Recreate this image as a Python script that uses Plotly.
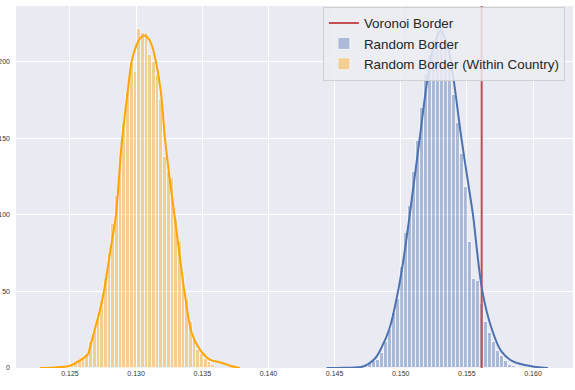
import plotly.graph_objects as go

# ---------------- data ----------------
# Histogram of "Random Border (Within Country)" (density), equal-width bins
orange_bin_start = 0.124773
orange_bin_width = 0.0002795
orange_heights = [1, 2, 3, 5, 7, 9, 17, 24, 33, 44,
                  58, 75, 94, 112, 139, 160, 181, 199, 193, 221,
                  219, 219, 204, 200, 191, 175, 138, 128, 124, 97,
                  82, 60, 45, 30, 20, 12, 9, 6, 4, 2]

# Histogram of "Random Border" (density), equal-width bins
blue_bin_start = 0.146903
blue_bin_width = 0.000302
blue_heights = [0.7, 1.5, 3, 4.5, 5.5, 10, 17, 25, 36, 45,
                66, 88, 106, 128, 148, 170, 192, 204, 214, 222,
                222, 212, 199, 178, 160, 140, 118, 82, 58, 57,
                42, 30, 23, 17, 11, 7.6, 4.3, 2.2, 1.5, 0.8]

# KDE curves
orange_kde_x = [0.122734, 0.123867, 0.125000, 0.125755, 0.126360, 0.126511,
                0.127266, 0.127568, 0.128021, 0.128474, 0.128776, 0.128950,
                0.129358, 0.129660, 0.130038, 0.130325, 0.130612, 0.130891,
                0.131171, 0.131495, 0.131873, 0.132175, 0.132515, 0.132893,
                0.133270, 0.133648, 0.134237, 0.134819, 0.135574, 0.136329,
                0.137085, 0.137840]
orange_kde_y = [0, 0.3, 1.5, 5, 9, 13.7,
                37.8, 50, 75, 100, 133, 150,
                180, 200, 211, 215.5, 217, 215.5,
                211, 200, 180, 150, 125, 100,
                75, 50, 22, 12, 5.4, 3.8,
                1.5, 0]

blue_kde_x = [0.144388, 0.145770, 0.147153, 0.148036, 0.148542, 0.149169,
              0.149796, 0.150227, 0.150680, 0.150831, 0.151435, 0.152062,
              0.152492, 0.153021, 0.153550, 0.153950, 0.154585, 0.155287,
              0.155461, 0.156171, 0.156850, 0.157606, 0.158482, 0.159970,
              0.161125]
blue_kde_y = [0, 0.2, 1, 6, 13.2, 26.3,
              50, 72, 100, 110, 150, 191,
              210, 220, 210, 191, 150, 110,
              100, 50, 26.3, 10.8, 4.3, 1,
              0]

voronoi_value = 0.156118

x_ticks = [0.125, 0.130, 0.135, 0.140, 0.145, 0.150, 0.155, 0.160]
x_tick_labels = ["0.125", "0.130", "0.135", "0.140", "0.145", "0.150", "0.155", "0.160"]
y_ticks = [0, 50, 100, 150, 200]

x_range = [0.12092, 0.16302]
y_range = [0, 236.3]

# ---------------- figure ----------------
orange_centers = [orange_bin_start + orange_bin_width * (i + 0.5) for i in range(len(orange_heights))]
blue_centers = [blue_bin_start + blue_bin_width * (i + 0.5) for i in range(len(blue_heights))]

fig = go.Figure()

fig.add_trace(go.Scatter(
    x=[voronoi_value, voronoi_value], y=[0, 300], mode="lines",
    line=dict(color="#C44E52", width=2), name="Voronoi Border"))

fig.add_trace(go.Bar(
    x=blue_centers, y=blue_heights, width=blue_bin_width,
    marker=dict(color="#4C72B0", line=dict(color="white", width=1)),
    opacity=0.4, name="Random Border"))

fig.add_trace(go.Bar(
    x=orange_centers, y=orange_heights, width=orange_bin_width,
    marker=dict(color="#FFA500", line=dict(color="white", width=1)),
    opacity=0.4, name="Random Border (Within Country)"))

fig.add_trace(go.Scatter(
    x=blue_kde_x, y=blue_kde_y, mode="lines", line=dict(color="#4C72B0", width=2, shape="spline"),
    showlegend=False, hoverinfo="skip"))

fig.add_trace(go.Scatter(
    x=orange_kde_x, y=orange_kde_y, mode="lines", line=dict(color="#FFA500", width=2, shape="spline"),
    showlegend=False, hoverinfo="skip"))

fig.update_layout(
    width=575, height=390,
    margin=dict(l=16, r=2, t=6, b=21.5, autoexpand=False),
    paper_bgcolor="white", plot_bgcolor="#EAEAF2",
    barmode="overlay", bargap=0,
    font=dict(family="Liberation Sans, Arial, sans-serif", color="#262626"),
    showlegend=True,
    legend=dict(
        x=0.551, y=0.998, xanchor="left", yanchor="top",
        bgcolor="rgba(236,236,243,0.85)", bordercolor="#D0D0D0", borderwidth=1,
        font=dict(size=13.4, color="#262626"), traceorder="normal",
        tracegroupgap=0),
    xaxis=dict(range=x_range, tickvals=x_ticks, ticktext=x_tick_labels,
               showgrid=True, gridcolor="white", gridwidth=1.2, zeroline=False,
               showline=False, ticks="", tickfont=dict(size=7, color="#333333"),
               automargin=False),
    yaxis=dict(range=y_range, tickvals=y_ticks,
               showgrid=True, gridcolor="white", gridwidth=1.2, zeroline=False,
               showline=False, ticks="", tickfont=dict(size=7, color="#333333"),
               automargin=False, ticklabelstandoff=5),
)

fig.write_html("out.html", config={"displayModeBar": False},
               post_script="document.body.style.margin='0';document.body.style.overflow='hidden';")
